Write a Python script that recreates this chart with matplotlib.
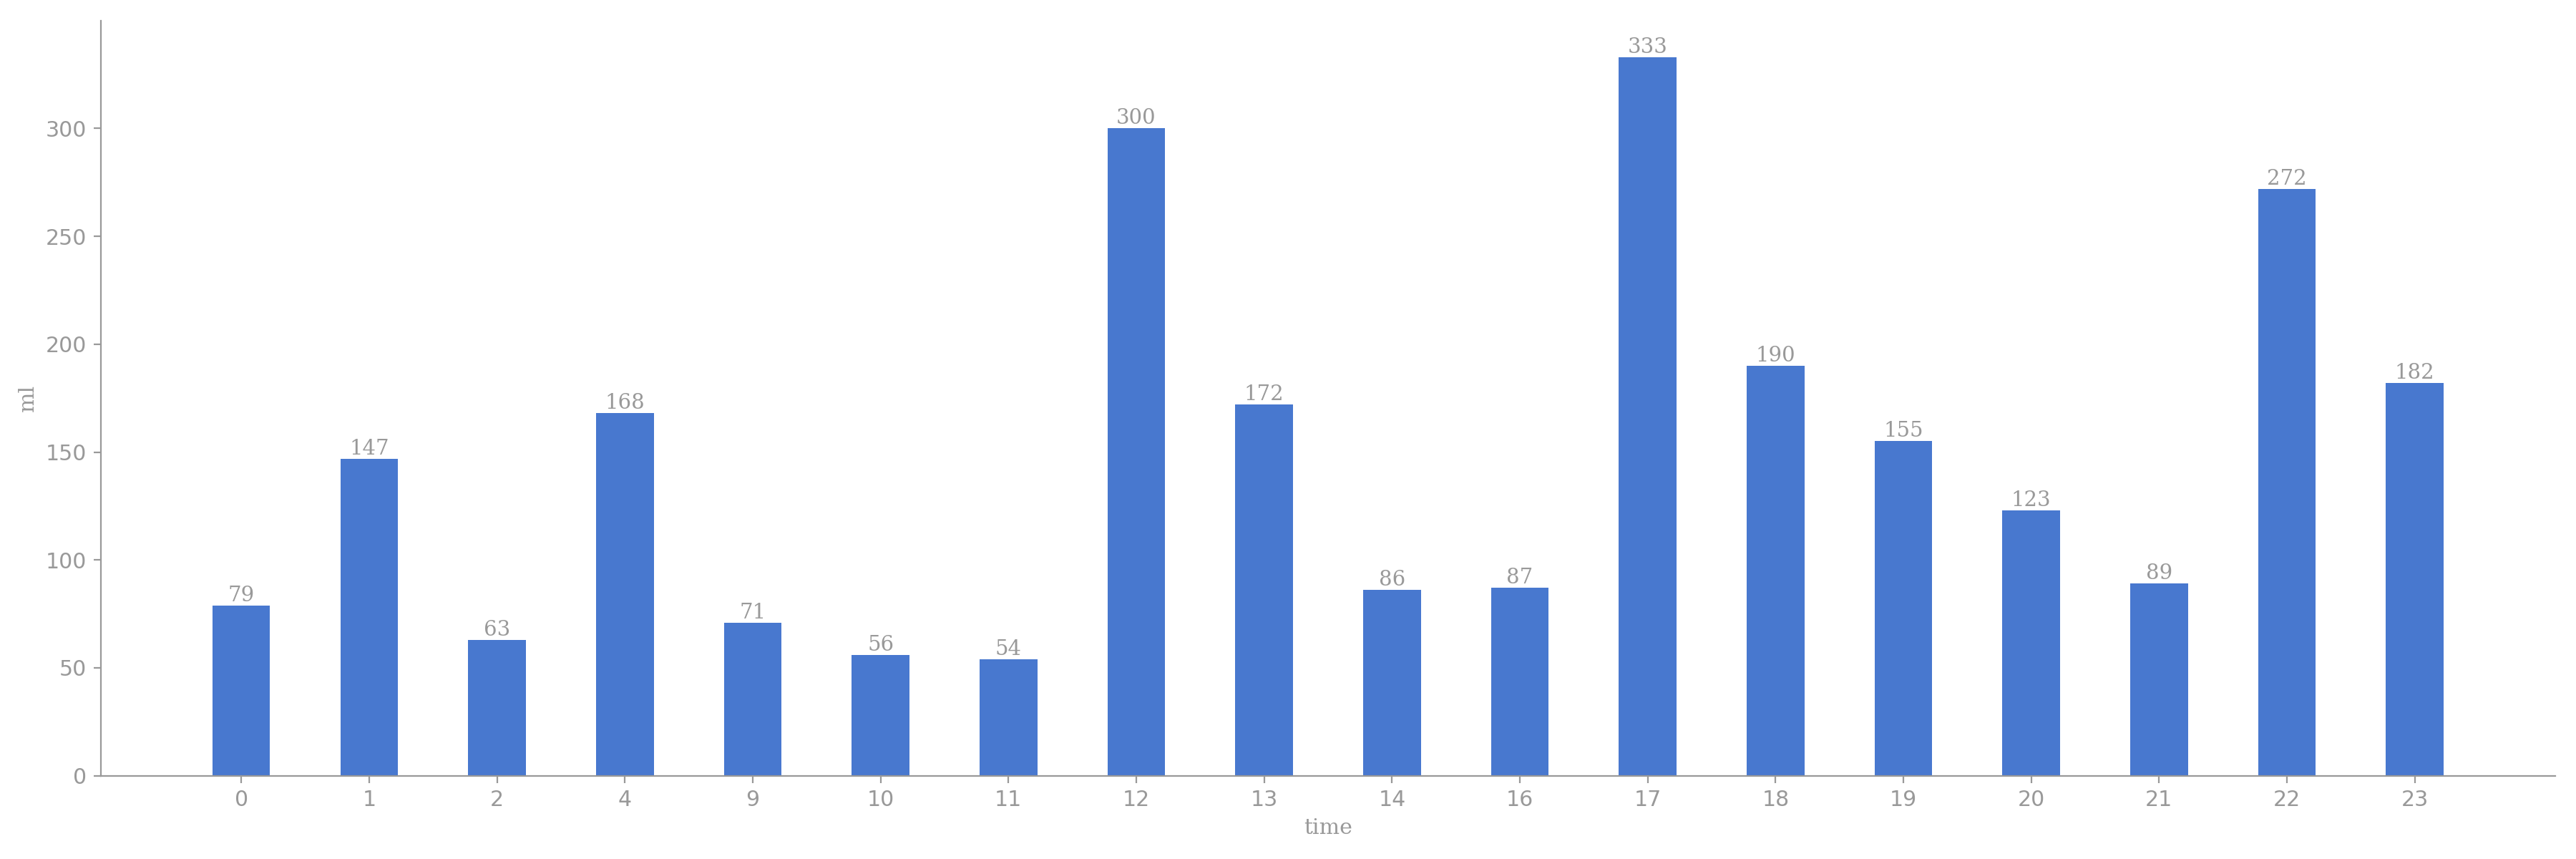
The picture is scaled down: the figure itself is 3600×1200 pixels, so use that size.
import numpy as np
import matplotlib.pyplot as plt

# donnees
hours = ['0', '1', '2', '4', '9', '10', '11', '12', '13', '14', '16', '17', '18', '19', '20', '21', '22', '23']
ml = [79, 147, 63, 168, 71, 56, 54, 300, 172, 86, 87, 333, 190, 155, 123, 89, 272, 182]

gris = '#999999'
bleu = '#4878cf'

fig = plt.figure(figsize=(18, 6), dpi=200)
ax = fig.add_axes([0.0391, 0.0970, 0.9529, 0.8790])

x = np.arange(len(hours))
bars = ax.bar(x, ml, width=0.45, color=bleu)
ax.bar_label(bars, labels=[str(v) for v in ml], padding=0,
             fontsize=10.5, color=gris, family='DejaVu Serif')

ax.set_xticks(x)
ax.set_xticklabels(hours)
ax.set_xlim(-1.1, 18.1)
ax.set_ylim(0, 350)
ax.set_yticks([0, 50, 100, 150, 200, 250, 300])

for s in ['top', 'right']:
    ax.spines[s].set_visible(False)
for s in ['left', 'bottom']:
    ax.spines[s].set_color(gris)
    ax.spines[s].set_linewidth(0.8)
ax.tick_params(colors=gris, labelsize=10.8, length=3.5, width=0.8)

ax.set_xlabel('time', fontsize=10.8, color=gris, family='DejaVu Serif')
ax.set_ylabel('ml', fontsize=10.8, color=gris, family='DejaVu Serif')

fig.savefig('out.png')
